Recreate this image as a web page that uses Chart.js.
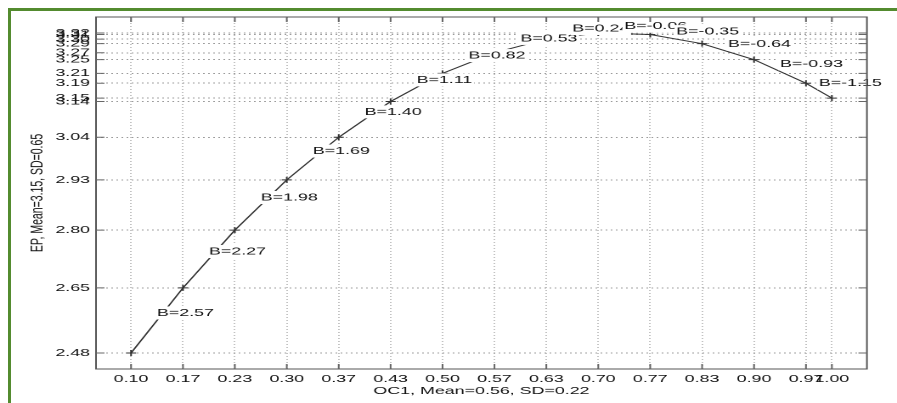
<!DOCTYPE html>
<html>
<head>
<meta charset="utf-8">
<script src="https://cdn.jsdelivr.net/npm/chart.js@4.4.1/dist/chart.umd.min.js"></script>
<style>
  html, body { margin: 0; padding: 0; background: #fff; overflow: hidden; width: 897px; height: 403px; }
  #frame { position: absolute; left: 8px; top: 8px; width: 886px; height: 392px;
           border-left: 3px solid #538b2f; border-top: 3px solid #538b2f; }
  #wrap { position: absolute; left: 0; top: 0; width: 528px; height: 403px;
          transform: scaleX(1.69886); transform-origin: 0 0; }
</style>
</head>
<body>
<div id="frame"></div>
<div id="wrap"><canvas id="c"></canvas></div>
<script>
// ---- data ----
const xVals = [0.1, 0.1667, 0.2333, 0.3, 0.3667, 0.4333, 0.5, 0.5667, 0.6333, 0.7, 0.7667, 0.8333, 0.9, 0.9667, 1.0];
const yVals = [2.477, 2.648, 2.800, 2.932, 3.044, 3.138, 3.212, 3.266, 3.302, 3.318, 3.314, 3.290, 3.248, 3.186, 3.147];
const slopes = [2.57, 2.27, 1.98, 1.69, 1.40, 1.11, 0.82, 0.53, 0.24, -0.06, -0.35, -0.64, -0.93, -1.15];
const xTitle = 'OC1, Mean=0.56, SD=0.22';
const yTitle = 'EP, Mean=3.15, SD=0.65';

const FONT = { family: '"Liberation Sans", Arial, sans-serif', size: 10.5 };
const TXT = '#111';
const GRID = '#9c9c9c';

const xMin = Math.min(...xVals), xMax = Math.max(...xVals);
const yMin = Math.min(...yVals), yMax = Math.max(...yVals);
const xPad = 0.05 * (xMax - xMin), yPad = 0.05 * (yMax - yMin);

const labelPlugin = {
  id: 'slopeLabels',
  afterDatasetsDraw(chart) {
    const { ctx, scales: { x, y } } = chart;
    ctx.save();
    ctx.font = FONT.size + 'px ' + FONT.family;
    ctx.textBaseline = 'middle';
    ctx.textAlign = 'left';
    slopes.forEach((b, i) => {
      const x0 = x.getPixelForValue(xVals[i]), x1 = x.getPixelForValue(xVals[i + 1]);
      const y0 = y.getPixelForValue(yVals[i]), y1 = y.getPixelForValue(yVals[i + 1]);
      const px = (x0 + x1) / 2, py = (y0 + y1) / 2 - 7.5;
      const t = 'B=' + b.toFixed(2);
      const w = ctx.measureText(t).width;
      ctx.fillStyle = '#fff';
      ctx.fillRect(px - 1, py - 6.5, w + 2, 13);
      ctx.fillStyle = '#111';
      ctx.fillText(t, px, py);
    });
    ctx.restore();
  }
};

const boxPlugin = {
  id: 'matlabBox',
  afterDraw(chart) {
    const { ctx, chartArea: a, scales: { x, y } } = chart;
    ctx.save();
    ctx.strokeStyle = '#555';
    ctx.lineWidth = 1;
    ctx.strokeRect(a.left, a.top, a.right - a.left, a.bottom - a.top);
    ctx.strokeStyle = '#666';
    ctx.beginPath();
    const tl = 5;
    x.ticks.forEach(t => {
      const p = x.getPixelForValue(t.value);
      ctx.moveTo(p, a.bottom); ctx.lineTo(p, a.bottom - tl);
      ctx.moveTo(p, a.top); ctx.lineTo(p, a.top + tl);
    });
    y.ticks.forEach(t => {
      const p = y.getPixelForValue(t.value);
      ctx.moveTo(a.left, p); ctx.lineTo(a.left + tl, p);
      ctx.moveTo(a.right, p); ctx.lineTo(a.right - tl, p);
    });
    ctx.stroke();
    ctx.restore();
  }
};

new Chart(document.getElementById('c'), {
  type: 'line',
  data: {
    datasets: [{
      data: xVals.map((v, i) => ({ x: v, y: yVals[i] })),
      borderColor: '#333',
      borderWidth: 1,
      pointStyle: 'cross',
      pointRadius: 3,
      pointBorderColor: '#333',
      pointBorderWidth: 1,
      fill: false,
      tension: 0
    }]
  },
  options: {
    responsive: true,
    maintainAspectRatio: false,
    animation: false,
    devicePixelRatio: 2,
    layout: { padding: { top: 17, right: 17.7, left: 0, bottom: 0 } },
    plugins: { legend: { display: false }, tooltip: { enabled: false } },
    scales: {
      x: {
        type: 'linear',
        min: xMin - xPad,
        max: xMax + xPad,
        afterBuildTicks: s => { s.ticks = xVals.map(v => ({ value: v })); },
        afterFit: s => { s.height = 34; },
        ticks: { autoSkip: false, maxRotation: 0, minRotation: 0, padding: 4, font: FONT, color: TXT,
                 callback: v => Number(v).toFixed(2) },
        grid: { color: GRID, lineWidth: 0.6, drawTicks: false },
        border: { display: false, dash: [1, 2] },
        title: { display: true, text: xTitle, font: FONT, color: TXT, padding: { top: 0, bottom: 5.5 } }
      },
      y: {
        type: 'linear',
        min: yMin - yPad,
        max: yMax + yPad,
        afterBuildTicks: s => { s.ticks = [...yVals].sort((a, b) => a - b).map(v => ({ value: v })); },
        afterFit: s => { s.width = 56.5; },
        ticks: { autoSkip: false, padding: 3.5, font: FONT, color: TXT,
                 callback: v => Number(v).toFixed(2) },
        grid: { color: GRID, lineWidth: 1, drawTicks: false },
        border: { display: false, dash: [1, 2] },
        title: { display: true, text: yTitle, font: FONT, color: TXT, padding: { top: 15.8, bottom: 0 } }
      }
    }
  },
  plugins: [labelPlugin, boxPlugin]
});
</script>
</body>
</html>
